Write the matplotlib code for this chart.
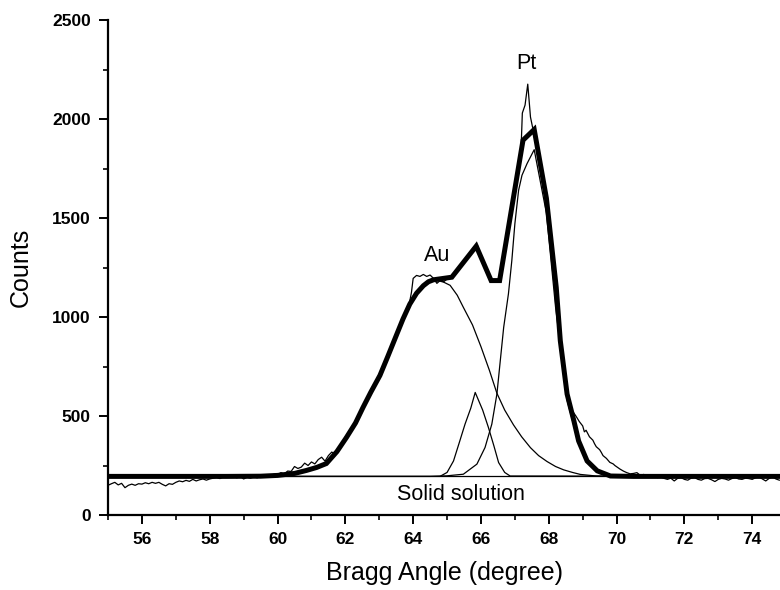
import matplotlib
matplotlib.use("Agg")
import matplotlib.pyplot as plt
from matplotlib.ticker import MultipleLocator

plt.rcParams['font.family'] = ['Liberation Sans', 'DejaVu Sans']

# ---- data ----
raw_x = [55.0, 55.1, 55.2, 55.3, 55.4, 55.5, 55.6, 55.7, 55.8, 55.9, 56.0, 56.1, 56.2, 56.3, 56.4,
         56.5, 56.6, 56.7, 56.8, 56.9, 57.0, 57.1, 57.2, 57.3, 57.4, 57.5, 57.6, 57.7, 57.8, 57.9,
         58.0, 58.1, 58.2, 58.3, 58.4, 58.5, 58.6, 58.7, 58.8, 58.9, 59.0, 59.1, 59.2, 59.3, 59.4,
         59.5, 59.6, 59.7, 59.8, 59.9, 60.0, 60.1, 60.2, 60.3, 60.4, 60.5, 60.6, 60.7, 60.8, 60.9,
         61.0, 61.1, 61.2, 61.3, 61.4, 61.5, 61.6, 61.7, 61.8, 61.9, 62.0, 62.1, 62.2, 62.3, 62.4,
         62.5, 62.6, 62.7, 62.8, 62.9, 63.0, 63.1, 63.2, 63.3, 63.4, 63.5, 63.6, 63.7, 63.8, 63.9,
         63.95, 64.0, 64.1, 64.2, 64.3, 64.4, 64.5, 64.6, 64.7, 64.8, 64.9, 65.0, 65.1, 65.2, 65.4,
         65.6, 65.8, 65.85, 65.9, 66.0, 66.1, 66.2, 66.3, 66.4, 66.5, 66.6, 66.7, 66.8, 66.9, 67.0,
         67.1, 67.18, 67.22, 67.3, 67.38, 67.46, 67.52, 67.6, 67.7, 67.8, 67.9, 68.0, 68.1, 68.2,
         68.3, 68.4, 68.5, 68.6, 68.7, 68.8, 68.9, 69.0, 69.05, 69.1, 69.2, 69.3, 69.35, 69.4, 69.5,
         69.55, 69.6, 69.7, 69.75, 69.8, 69.9, 69.95, 70.0, 70.1, 70.2, 70.3, 70.4, 70.5, 70.6, 70.7,
         70.8, 70.9, 71.0, 71.1, 71.2, 71.3, 71.4, 71.5, 71.6, 71.7, 71.8, 71.9, 72.0, 72.1, 72.2,
         72.3, 72.4, 72.5, 72.6, 72.7, 72.8, 72.9, 73.0, 73.1, 73.2, 73.3, 73.4, 73.5, 73.6, 73.7,
         73.8, 73.9, 74.0, 74.1, 74.2, 74.3, 74.4, 74.5, 74.6, 74.7, 74.8]
raw_y = [150, 158, 165, 152, 160, 138, 150, 156, 150, 158, 156, 163, 158, 165, 160,
         165, 155, 147, 158, 155, 165, 172, 168, 175, 170, 180, 172, 178, 182, 176,
         182, 186, 190, 184, 192, 198, 190, 194, 188, 195, 182, 190, 186, 192, 188,
         195, 198, 192, 200, 206, 204, 214, 208, 222, 220, 245, 235, 242, 262, 250,
         268, 258, 280, 292, 272, 300, 318, 305, 340, 362, 395, 420, 440, 468, 500,
         540, 570, 600, 630, 665, 710, 745, 785, 825, 865, 915, 955, 995, 1035, 1080,
         1125, 1195, 1210, 1205, 1215, 1205, 1212, 1195, 1170, 1185, 1178, 1192, 1200, 1214, 1258,
         1301, 1355, 1340, 1360, 1305, 1263, 1224, 1186, 1182, 1188, 1235, 1338, 1441, 1543, 1646,
         1749, 1835, 2030, 2070, 2176, 2010, 1960, 1915, 1820, 1720, 1625, 1480, 1310, 1150,
         960, 820, 680, 585, 525, 500, 472, 450, 420, 428, 395, 378, 360, 345, 330,
         316, 300, 286, 276, 266, 258, 250, 244, 232, 222, 214, 208, 210, 214, 200,
         205, 197, 195, 198, 189, 192, 185, 180, 186, 172, 185, 189, 180, 176, 186,
         189, 180, 176, 184, 185, 178, 169, 180, 185, 182, 176, 184, 189, 182, 180,
         186, 184, 180, 188, 193, 182, 172, 185, 193, 182, 176]

fit_x = [55.0, 58.5, 59.5, 60.0, 60.5, 60.85, 61.15, 61.44, 61.75, 62.03, 62.3, 62.52, 62.75,
         63.02, 63.25, 63.51, 63.7, 63.9, 64.1, 64.3, 64.45, 64.6, 65.14, 65.86, 66.3, 66.55,
         67.24, 67.57, 67.93, 68.22, 68.34, 68.54, 68.74, 68.88, 69.13, 69.43, 69.82, 70.5, 75.0]
fit_y = [195, 195, 196, 200, 210, 225, 240, 260, 320, 391, 465, 543, 620,
         705, 800, 910, 990, 1065, 1120, 1158, 1178, 1188, 1201, 1358, 1184, 1184,
         1893, 1947, 1600, 1150, 880, 611, 476, 374, 273, 223, 197, 195, 195]

au_x = [55.0, 58.5, 59.5, 60.0, 60.5, 60.85, 61.15, 61.44, 61.75, 62.03, 62.3, 62.52, 62.75,
        63.02, 63.25, 63.51, 63.7, 63.9, 64.1, 64.3, 64.45, 64.6, 64.75, 64.9, 65.09, 65.3,
        65.48, 65.75, 66.0, 66.25, 66.47, 66.7, 66.96, 67.2, 67.46, 67.7, 67.95, 68.2, 68.44,
        68.7, 68.93, 69.4, 70.0, 75.0]
au_y = [195, 195, 196, 200, 210, 225, 240, 260, 320, 391, 465, 543, 620,
        705, 800, 910, 990, 1065, 1120, 1158, 1175, 1182, 1183, 1176, 1160, 1110,
        1049, 960, 850, 730, 615, 530, 455, 395, 340, 300, 270, 245, 228,
        215, 205, 197, 195, 195]

ss_x = [55.0, 64.79, 65.0, 65.19, 65.35, 65.53, 65.7, 65.83, 66.05, 66.22, 66.38, 66.52, 66.7, 66.86, 75.0]
ss_y = [195, 195, 215, 273, 360, 459, 540, 619, 530, 442, 350, 265, 215, 197, 195]

pt_x = [55.0, 64.5, 65.0, 65.48, 65.88, 66.12, 66.32, 66.47, 66.57, 66.67, 66.81, 66.91, 67.0,
        67.11, 67.21, 67.36, 67.57, 67.93, 68.2, 68.54, 68.88, 69.13, 69.43, 69.82, 75.0]
pt_y = [195, 195, 198, 206, 257, 341, 459, 611, 780, 948, 1117, 1285, 1471,
        1640, 1716, 1775, 1845, 1525, 1050, 580, 360, 265, 221, 197, 195]

base_x = [55.0, 75.0]
base_y = [195, 195]

labels = [("Pt", 67.35, 2280), ("Au", 64.72, 1310), ("Solid solution", 65.4, 105)]

# ---- figure ----
fig = plt.figure(figsize=(7.8, 5.9), dpi=100)
ax = fig.add_axes([0.1385, 0.1271, 0.8615, 0.839])

thin = dict(color='black', lw=0.9)
ax.plot(base_x, base_y, **thin)
ax.plot(au_x, au_y, **thin)
ax.plot(ss_x, ss_y, **thin)
ax.plot(pt_x, pt_y, **thin)
ax.plot(raw_x, raw_y, **thin)
ax.plot(fit_x, fit_y, color='black', lw=3.6, solid_joinstyle='miter')

for t, x, y in labels:
    ax.text(x, y, t, ha='center', va='center', fontsize=15.5)

ax.set_xlim(55, 74.82)
ax.set_ylim(0, 2500)
ax.xaxis.set_minor_locator(MultipleLocator(1))
ax.yaxis.set_major_locator(MultipleLocator(500))
ax.yaxis.set_minor_locator(MultipleLocator(250))
ax.set_xticks(list(range(56, 75, 2)))

for s in ['top', 'right']:
    ax.spines[s].set_visible(False)
for s in ['left', 'bottom']:
    ax.spines[s].set_linewidth(1.6)

ax.tick_params(which='major', direction='out', length=6.5, width=1.4, labelsize=12.5, pad=6)
ax.tick_params(which='minor', direction='out', length=3.5, width=1.2)
for lab in ax.get_xticklabels() + ax.get_yticklabels():
    lab.set_fontweight('bold')

ax.set_xlabel("Bragg Angle (degree)", fontsize=18, labelpad=10)
ax.set_ylabel("Counts", fontsize=18, labelpad=14)

fig.savefig("out.png", dpi=100)
